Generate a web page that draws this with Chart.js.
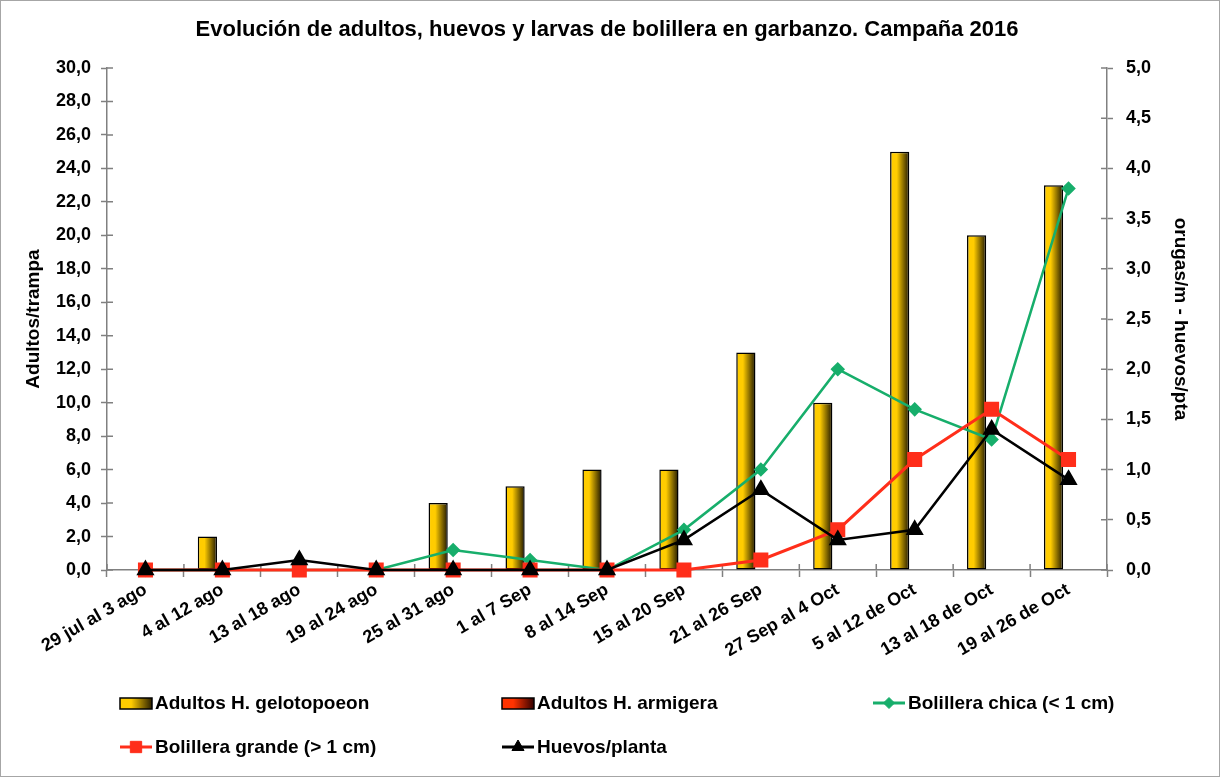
<!DOCTYPE html>
<html>
<head>
<meta charset="utf-8">
<script src="https://cdn.jsdelivr.net/npm/chart.js@4"></script>
<style>
  html, body { margin: 0; padding: 0; background: #fff; }
  #wrap { position: relative; width: 1218px; height: 775px; border: 1px solid #a6a6a6; }
</style>
</head>
<body>
<div id="wrap"><canvas id="chart" width="1218" height="775"></canvas></div>
<script>
// Categories (weeks)
const weeks = ['29 jul al 3 ago', '4 al 12 ago', '13 al 18 ago', '19 al 24 ago', '25 al 31 ago',
  '1 al 7 Sep', '8 al 14 Sep', '15 al 20 Sep', '21 al 26 Sep', '27 Sep al 4 Oct',
  '5 al 12 de Oct', '13 al 18 de Oct', '19 al 26 de Oct'];

// Adults per trap (left axis)
const adultosGelotopoeon = [0, 2, 0, 0, 4, 5, 6, 6, 13, 10, 25, 20, 23];
const adultosArmigera = [0, 0, 0, 0, 0, 0, 0, 0, 0, 0, 0, 0, 0];

// Larvae / eggs (right axis)
const bolilleraChica = [0, 0, 0, 0, 0.2, 0.1, 0, 0.4, 1.0, 2.0, 1.6, 1.3, 3.8];
const bolilleraGrande = [0, 0, 0, 0, 0, 0, 0, 0, 0.1, 0.4, 1.1, 1.6, 1.1];
const huevosPlanta = [0, 0, 0.1, 0, 0, 0, 0, 0.3, 0.8, 0.3, 0.4, 1.4, 0.9];

const FONT = "'Liberation Sans', Arial, sans-serif";

function fmt(v) {
    return Number(v).toFixed(1).replace('.', ',');
}

function hGradient(ctx, x0, x1, light, dark) {
    const g = ctx.createLinearGradient(x0, 0, x1, 0);
    g.addColorStop(0, light);
    g.addColorStop(0.35, light);
    g.addColorStop(1, dark);
    return g;
}

// Gives each bar its own left-to-right gradient once the bars are placed
const barGradientPlugin = {
    id: 'barGradient',
    beforeDatasetsDraw(chart) {
        chart.data.datasets.forEach((ds, i) => {
            if (!ds.gradient) return;
            const meta = chart.getDatasetMeta(i);
            meta.data.forEach(el => {
                const x0 = el.x - el.width / 2;
                const x1 = el.x + el.width / 2;
                el.options = Object.assign({}, el.options, {
                    backgroundColor: hGradient(chart.ctx, x0, x1, ds.gradient[0], ds.gradient[1])
                });
            });
        });
    }
};

// Excel-style tick marks that also cross to the inside of each axis
const innerTicksPlugin = {
    id: 'innerTicks',
    beforeDatasetsDraw(chart) {
        const ctx = chart.ctx;
        const area = chart.chartArea;
        ctx.save();
        ctx.strokeStyle = '#808080';
        ctx.lineWidth = 1.5;
        ctx.beginPath();
        ['y', 'y1'].forEach(id => {
            const s = chart.scales[id];
            s.ticks.forEach((t, i) => {
                const py = s.getPixelForTick(i);
                const ax = id === 'y' ? area.left : area.right;
                const dir = id === 'y' ? 1 : -1;
                ctx.moveTo(ax, py);
                ctx.lineTo(ax + dir * 6, py);
            });
        });
        const xs = chart.scales.x;
        const step = xs.width / weeks.length;
        for (let i = 0; i <= weeks.length; i++) {
            const px = area.left + i * step;
            ctx.moveTo(px, area.bottom);
            ctx.lineTo(px, area.bottom - 6);
        }
        ctx.stroke();
        ctx.restore();
    }
};

// Legend drawn in the bottom padding
const legendItems = [
    { text: 'Adultos H. gelotopoeon', type: 'box', c1: '#FFCC00', c2: '#2a1f00', x: 119, y: 702 },
    { text: 'Adultos H. armigera', type: 'box', c1: '#FF3300', c2: '#330000', x: 501, y: 702 },
    { text: 'Bolillera chica (< 1 cm)', type: 'line', color: '#17AE6B', style: 'rectRot', r: 5.5, x: 872, y: 702 },
    { text: 'Bolillera grande (> 1 cm)', type: 'line', color: '#FF2E1A', style: 'rect', r: 8, x: 119, y: 746 },
    { text: 'Huevos/planta', type: 'line', color: '#000000', style: 'triangle', r: 7, x: 501, y: 746 }
];

const legendPlugin = {
    id: 'bottomLegend',
    afterDraw(chart) {
        const ctx = chart.ctx;
        ctx.save();
        ctx.font = 'bold 19px ' + FONT;
        ctx.textBaseline = 'middle';
        legendItems.forEach(it => {
            if (it.type === 'box') {
                ctx.fillStyle = hGradient(ctx, it.x, it.x + 32, it.c1, it.c2);
                ctx.fillRect(it.x, it.y - 5, 32, 11);
                ctx.strokeStyle = '#000';
                ctx.lineWidth = 1.5;
                ctx.strokeRect(it.x, it.y - 5, 32, 11);
            } else {
                ctx.strokeStyle = it.color;
                ctx.lineWidth = 3;
                ctx.beginPath();
                ctx.moveTo(it.x, it.y);
                ctx.lineTo(it.x + 32, it.y);
                ctx.stroke();
                ctx.fillStyle = it.color;
                ctx.lineWidth = 1;
                Chart.helpers.drawPoint(ctx, {
                    pointStyle: it.style, radius: it.r, borderWidth: 1, rotation: 0
                }, it.x + 16, it.y);
            }
            ctx.fillStyle = '#000';
            ctx.fillText(it.text, it.x + 35, it.y + 1);
        });
        ctx.restore();
    }
};

const ctx = document.getElementById('chart').getContext('2d');
const chart = new Chart(ctx, {
    type: 'bar',
    data: {
        labels: weeks,
        datasets: [
            {
                label: 'Bolillera chica (< 1 cm)',
                type: 'line',
                data: bolilleraChica,
                yAxisID: 'y1',
                borderColor: '#17AE6B',
                backgroundColor: '#17AE6B',
                borderWidth: 2.5,
                pointStyle: 'rectRot',
                pointRadius: 5.5,
                tension: 0,
                clip: false,
                order: 3
            },
            {
                label: 'Bolillera grande (> 1 cm)',
                type: 'line',
                data: bolilleraGrande,
                yAxisID: 'y1',
                borderColor: '#FF2E1A',
                backgroundColor: '#FF2E1A',
                borderWidth: 3,
                pointStyle: 'rect',
                pointRadius: 8.5,
                tension: 0,
                clip: false,
                order: 2
            },
            {
                label: 'Huevos/planta',
                type: 'line',
                data: huevosPlanta,
                yAxisID: 'y1',
                borderColor: '#000000',
                backgroundColor: '#000000',
                borderWidth: 2.5,
                pointStyle: 'triangle',
                pointRadius: 8,
                tension: 0,
                clip: false,
                order: 1
            },
            {
                label: 'Adultos H. gelotopoeon',
                data: adultosGelotopoeon,
                yAxisID: 'y',
                gradient: ['#FFCC00', '#1f1700'],
                backgroundColor: '#FFCC00',
                borderColor: '#000',
                borderWidth: 1.5,
                borderSkipped: false,
                categoryPercentage: 0.78,
                barPercentage: 0.64,
                order: 4
            },
            {
                label: 'Adultos H. armigera',
                data: adultosArmigera,
                yAxisID: 'y',
                gradient: ['#FF3300', '#330000'],
                backgroundColor: '#FF3300',
                borderColor: '#000',
                borderWidth: 0,
                categoryPercentage: 0.78,
                barPercentage: 0.64,
                order: 5
            }
        ]
    },
    options: {
        responsive: false,
        animation: false,
        layout: {
            padding: { left: 21, right: 27, top: 0, bottom: 120 }
        },
        plugins: {
            legend: { display: false },
            tooltip: { enabled: false },
            title: {
                display: true,
                text: 'Evolución de adultos, huevos y larvas de bolillera en garbanzo. Campaña 2016',
                color: '#000',
                font: { family: FONT, size: 22, weight: 'bold', lineHeight: 1.2 },
                padding: { top: 15.8, bottom: 24.8 }
            }
        },
        scales: {
            x: {
                grid: {
                    display: true,
                    drawOnChartArea: false,
                    offset: true,
                    color: '#808080',
                    tickLength: 7,
                    tickWidth: 1.5
                },
                border: { color: '#808080', width: 1.5 },
                ticks: {
                    color: '#000',
                    font: { family: FONT, size: 18, weight: 'bold' },
                    minRotation: 30,
                    maxRotation: 30,
                    padding: 2
                },
                afterFit(s) { s.height = 86; }
            },
            y: {
                position: 'left',
                min: 0,
                max: 30,
                ticks: {
                    stepSize: 2,
                    color: '#000',
                    font: { family: FONT, size: 18, weight: 'bold' },
                    padding: 10,
                    callback: v => fmt(v)
                },
                grid: {
                    drawOnChartArea: false,
                    color: '#808080',
                    tickLength: 6,
                    tickWidth: 1.5
                },
                border: { color: '#808080', width: 1.5 },
                title: {
                    display: true,
                    text: 'Adultos/trampa',
                    color: '#000',
                    font: { family: FONT, size: 19, weight: 'bold' },
                    padding: { top: 0, bottom: 0 }
                },
                afterFit(s) { s.width = 85; }
            },
            y1: {
                position: 'right',
                min: 0,
                max: 5,
                ticks: {
                    stepSize: 0.5,
                    color: '#000',
                    font: { family: FONT, size: 18, weight: 'bold' },
                    padding: 13,
                    callback: v => fmt(v)
                },
                grid: {
                    drawOnChartArea: false,
                    color: '#808080',
                    tickLength: 6,
                    tickWidth: 1.5
                },
                border: { color: '#808080', width: 1.5 },
                title: {
                    display: true,
                    text: 'orugas/m - huevos/pta',
                    color: '#000',
                    font: { family: FONT, size: 19, weight: 'bold' },
                    padding: { top: 0, bottom: 0 }
                },
                afterFit(s) { s.width = 85; }
            }
        }
    },
    plugins: [barGradientPlugin, innerTicksPlugin, legendPlugin]
});
</script>
</body>
</html>
